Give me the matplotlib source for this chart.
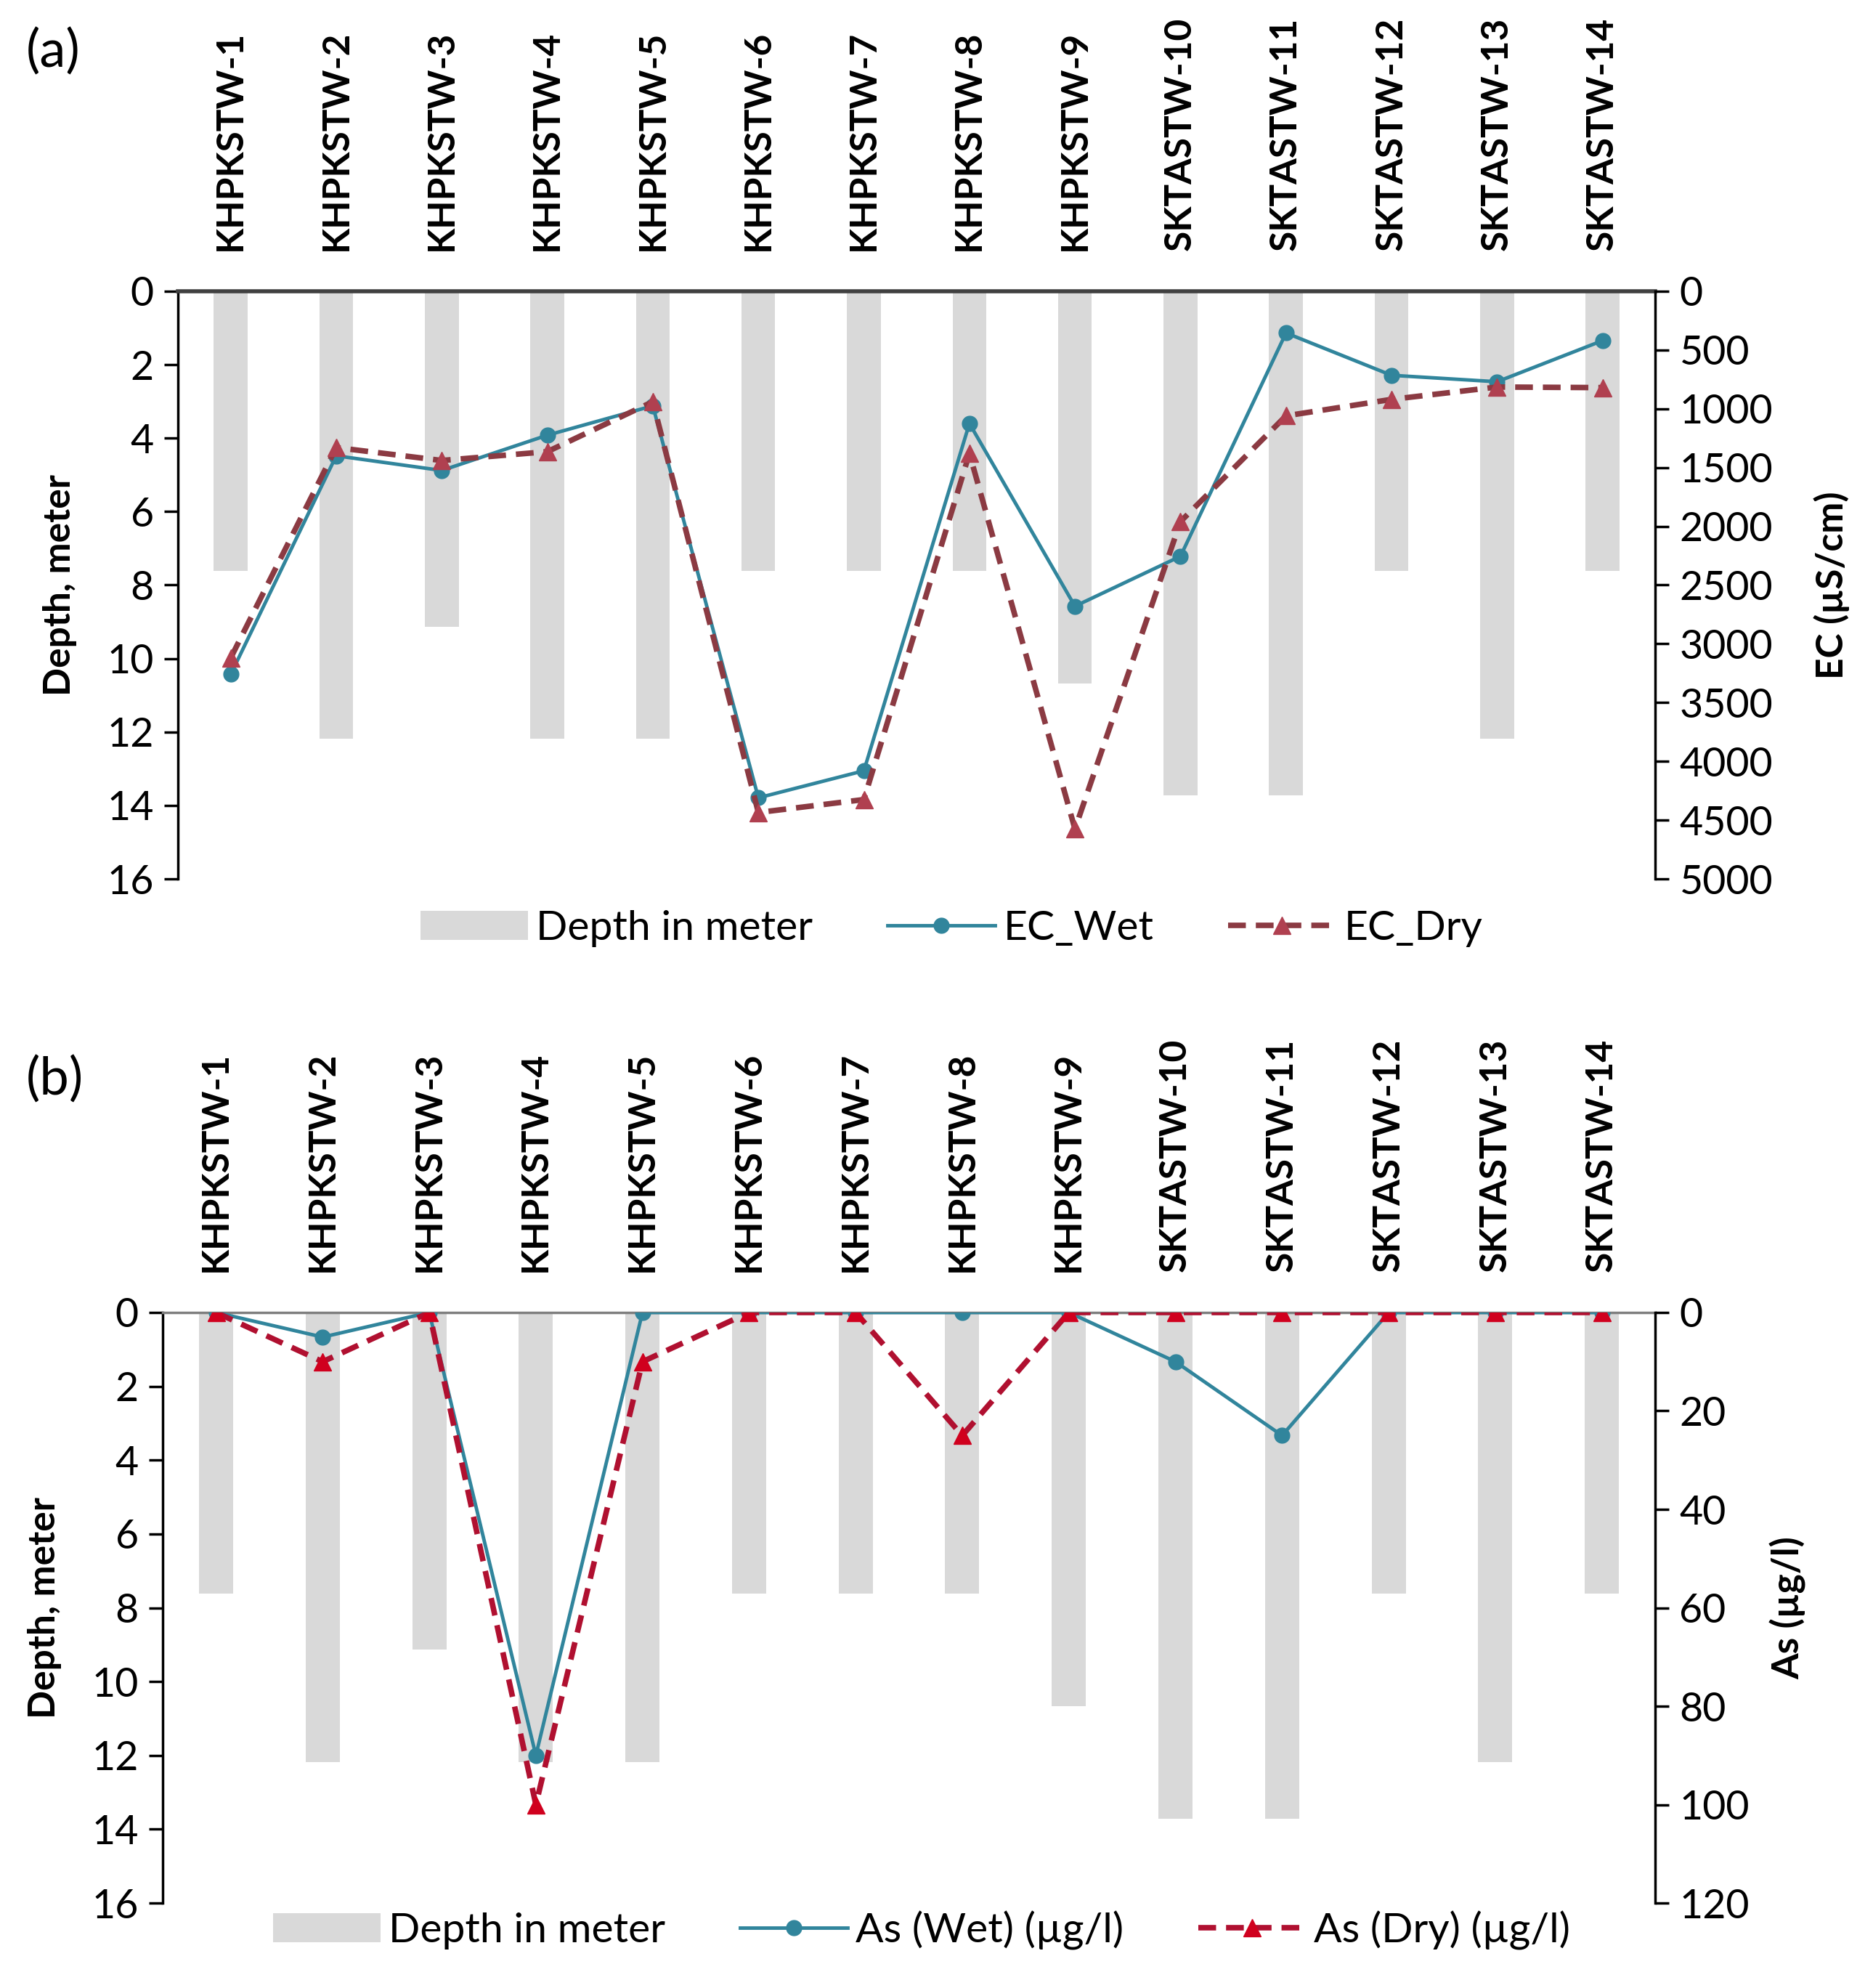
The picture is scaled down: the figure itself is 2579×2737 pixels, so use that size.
import matplotlib
matplotlib.use("Agg")
import matplotlib.pyplot as plt
import numpy as np

plt.rcParams["font.family"] = ["Lato", "DejaVu Sans"]

# ----------------------------------------------------------------------
# data
# ----------------------------------------------------------------------
wells = [
    "KHPKSTW-1", "KHPKSTW-2", "KHPKSTW-3", "KHPKSTW-4", "KHPKSTW-5",
    "KHPKSTW-6", "KHPKSTW-7", "KHPKSTW-8", "KHPKSTW-9", "SKTASTW-10",
    "SKTASTW-11", "SKTASTW-12", "SKTASTW-13", "SKTASTW-14",
]
depth_m = [7.62, 12.19, 9.14, 12.19, 12.19, 7.62, 7.62, 7.62, 10.67, 13.72,
           13.72, 7.62, 12.19, 7.62]

ec_wet = [3260, 1400, 1525, 1225, 975, 4310, 4080, 1125, 2680, 2255,
          355, 715, 770, 420]
ec_dry = [3120, 1330, 1440, 1365, 940, 4435, 4325, 1380, 4575, 1960,
          1060, 920, 815, 820]

as_wet = [0, 5, 0, 90, 0, 0, 0, 0, 0, 10, 25, 0, 0, 0]
as_dry = [0, 10, 0, 100, 10, 0, 0, 25, 0, 0, 0, 0, 0, 0]

BAR_C = "#D9D9D9"
WET_C = "#31859C"

TICK_FS = 40
CAT_FS = 37
LAB_FS = 37
LEG_FS = 41


def panel(fig, rect, wet, dry, ymax2, yticks2, ylabel2, wet_lab, dry_lab,
          dry_line, dry_mark, top_c, top_lw, leg_xy, rpad):
    x = np.arange(len(wells))
    ax = fig.add_axes(rect)
    bars = ax.bar(x, depth_m, width=0.32, color=BAR_C, zorder=1,
                  label="Depth in meter")
    ax.set_xlim(-0.5, len(wells) - 0.5)
    ax.set_ylim(16, 0)
    ax.set_yticks(range(0, 17, 2))
    ax.set_xticks(x)
    ax.set_xticklabels(wells, rotation=90, fontsize=CAT_FS, fontweight="bold")
    ax.xaxis.tick_top()
    ax.tick_params(axis="x", length=0, pad=40)
    ax.tick_params(axis="y", labelsize=TICK_FS, length=14, width=2.5,
                   direction="out", pad=10)
    ax.set_ylabel("Depth, meter", fontsize=LAB_FS, fontweight="bold",
                  labelpad=30)
    ax.spines["bottom"].set_visible(False)
    ax.spines["right"].set_visible(False)
    ax.spines["left"].set_linewidth(2.5)
    ax.spines["top"].set_color(top_c)
    ax.spines["top"].set_linewidth(top_lw)

    ax2 = ax.twinx()
    l1, = ax2.plot(x, wet, color=WET_C, lw=3.5, marker="o", ms=15,
                   label=wet_lab, zorder=3)
    l2, = ax2.plot(x, dry, color=dry_line, lw=5.5, ls=(0, (3.2, 1.8)),
                   marker="^", ms=17, mfc=dry_mark, mec=dry_mark,
                   label=dry_lab, zorder=4)
    ax2.set_ylim(ymax2, 0)
    ax2.set_yticks(yticks2)
    ax2.tick_params(axis="y", labelsize=TICK_FS, length=14, width=2.5,
                    direction="out", pad=10)
    ax2.set_ylabel(ylabel2, fontsize=LAB_FS, fontweight="bold", labelpad=rpad)
    for s in ("bottom", "left", "top"):
        ax2.spines[s].set_visible(False)
    ax2.spines["right"].set_linewidth(2.5)

    fig.legend([bars, l1, l2], ["Depth in meter", wet_lab, dry_lab],
               loc="center", bbox_to_anchor=leg_xy, ncol=3, frameon=False,
               fontsize=LEG_FS, handlelength=2.6, columnspacing=1.8,
               handletextpad=0.2)
    return ax, ax2


fig = plt.figure(figsize=(25.79, 27.37), dpi=100)

panel(fig, [0.095, 0.5579, 0.7888, 0.2956], ec_wet, ec_dry, 5000,
      range(0, 5001, 500), "EC (µS/cm)", "EC_Wet", "EC_Dry",
      "#8B3A42", "#B04050", "#404040", 4.0, (0.508, 0.533), 40)

panel(fig, [0.0869, 0.0427, 0.7968, 0.2971], as_wet, as_dry, 120,
      range(0, 121, 20), "As (µg/l)", "As (Wet) (µg/l)", "As (Dry) (µg/l)",
      "#B01030", "#D0001E", "#7F7F7F", 2.5, (0.492, 0.029), 20)

fig.text(0.014, 0.986, "(a)", fontsize=52, va="top", ha="left")
fig.text(0.014, 0.469, "(b)", fontsize=52, va="top", ha="left")

fig.savefig("out.png", dpi=100)
